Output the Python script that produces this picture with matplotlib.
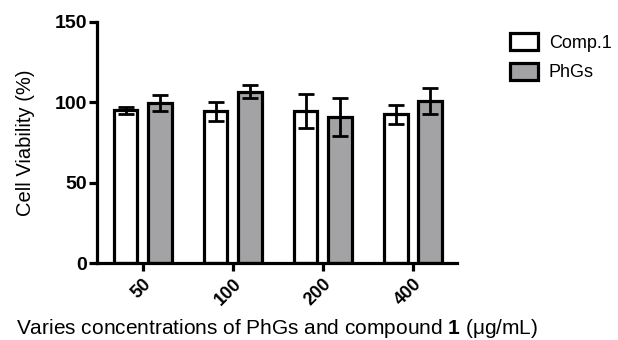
# cell viability bar chart, Comp.1 vs PhGs

import numpy as np
import matplotlib
matplotlib.use('Agg')
import matplotlib.pyplot as plt

plt.rcParams['font.family'] = ['Liberation Sans', 'DejaVu Sans']
plt.rcParams['mathtext.fontset'] = 'custom'
plt.rcParams['mathtext.bf'] = 'Liberation Sans:bold'
plt.rcParams['mathtext.rm'] = 'Liberation Sans'

# data
concentrations = ['50', '100', '200', '400']
comp1_mean = [95, 94.5, 94.5, 92.5]
comp1_err = [2, 6, 10.5, 6]
phgs_mean = [99.5, 106.5, 91, 101]
phgs_err = [5, 4, 12, 8]
series_names = ['Comp.1', 'PhGs']

white = '#ffffff'
grey = '#a3a3a6'
lw = 2.3

fig = plt.figure(figsize=(6.18, 3.4), dpi=100)
ax = fig.add_axes([97 / 618, 1 - 263 / 340, 360 / 618, 241 / 340])

x = np.arange(len(concentrations))
width = 0.26
offset = 0.19

ax.bar(x - offset, comp1_mean, width, color=white, edgecolor='black', linewidth=lw,
       label=series_names[0], zorder=2)
ax.bar(x + offset, phgs_mean, width, color=grey, edgecolor='black', linewidth=lw,
       label=series_names[1], zorder=2)
ax.errorbar(x - offset, comp1_mean, yerr=comp1_err, fmt='none', ecolor='black',
            elinewidth=2, capsize=5.5, capthick=2, zorder=3)
ax.errorbar(x + offset, phgs_mean, yerr=phgs_err, fmt='none', ecolor='black',
            elinewidth=2, capsize=5.5, capthick=2, zorder=3)

ax.set_xlim(-0.51, 3.49)
ax.set_ylim(0, 150)
ax.set_yticks([0, 50, 100, 150])
ax.set_xticks(x)
ax.set_xticklabels(concentrations, rotation=45, ha='right', rotation_mode='anchor',
                   fontsize=13, fontweight='bold')
for lab in ax.get_yticklabels():
    lab.set_fontsize(14)
    lab.set_fontweight('bold')

ax.spines['top'].set_visible(False)
ax.spines['right'].set_visible(False)
ax.spines['left'].set_linewidth(lw)
ax.spines['bottom'].set_linewidth(lw)
ax.tick_params(axis='both', width=lw, length=6, pad=1)
ax.tick_params(axis='x', pad=3)

ax.set_ylabel('Cell Viability (%)', fontsize=14.5, labelpad=14)
ax.set_xlabel(r'Varies concentrations of PhGs and compound $\mathbf{1}$ (μg/mL)',
              fontsize=15, labelpad=6)

fig.legend(loc='upper left', bbox_to_anchor=(501 / 618, 1 - 24 / 340), frameon=False,
           fontsize=13, handlelength=1.55, handleheight=1.1, handletextpad=0.6,
           labelspacing=0.6, borderpad=0)

fig.savefig('out.png', dpi=100)
